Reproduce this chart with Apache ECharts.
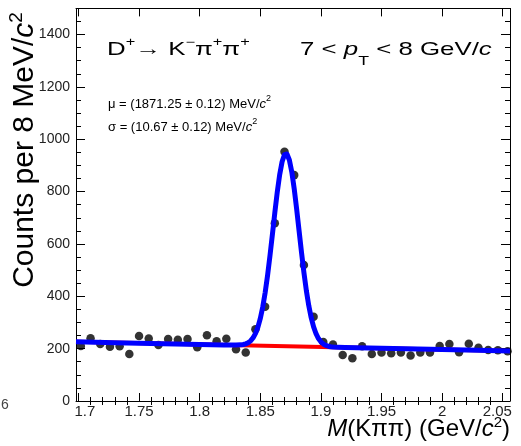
<!DOCTYPE html>
<html><head><meta charset="utf-8">
<script src="https://cdn.jsdelivr.net/npm/echarts@6/dist/echarts.min.js"></script>
<style>html,body{margin:0;padding:0;background:#fff}#c{width:521px;height:446px}</style>
</head><body><div id="c"></div>
<script>
// ---- data ----
const binCenters = [1.702,1.710,1.718,1.726,1.734,1.742,1.750,1.758,1.766,1.774,1.782,1.790,1.798,1.806,1.814,1.822,1.830,1.838,1.846,1.854,1.862,1.870,1.878,1.886,1.894,1.902,1.910,1.918,1.926,1.934,1.942,1.950,1.958,1.966,1.974,1.982,1.990,1.998,2.006,2.014,2.022,2.030,2.038,2.046,2.054];
const counts = [210,240,218,207,209,180,248,239,214,237,234,237,205,251,228,238,198,185,274,360,679,952,863,520,322,225,216,176,163,209,180,185,182,185,174,185,185,210,218,186,219,203,195,194,190];
// fitted curve (signal + background)
const fitX = [1.698,1.73,1.76,1.79,1.81,1.82,1.826,1.830,1.834,1.836,1.838,1.840,1.842,1.844,1.846,1.848,1.850,1.852,1.854,1.856,1.858,1.860,1.862,1.864,1.866,1.868,1.870,1.871,1.872,1.874,1.876,1.878,1.880,1.882,1.884,1.886,1.888,1.890,1.892,1.894,1.896,1.898,1.900,1.902,1.904,1.906,1.908,1.910,1.914,1.92,1.94,1.98,2.02,2.056];
const fitY = [226,222.9,219.9,217,215,214.1,213.5,213.5,214.5,215.8,218.3,222.6,229.7,240.8,257.5,281.5,314.6,358.3,413.2,479.3,554.7,636.3,719.3,797.5,864.5,914.2,941.6,946.1,943.9,921,875.1,810.7,733.7,650.9,568.1,490.8,422.2,364.6,318.4,283,257,238.5,226,217.8,212.6,209.4,207.5,206.3,204.9,204.3,202.3,198.4,194.5,191];
// background component (red)
const bkgX = [1.698,2.056];
const bkgY = [226,191];
const xMajorTicks = [1.7,1.75,1.8,1.85,1.9,1.95,2,2.05];
const xMinorTicks = [1.71,1.72,1.73,1.74,1.76,1.77,1.78,1.79,1.81,1.82,1.83,1.84,1.86,1.87,1.88,1.89,1.91,1.92,1.93,1.94,1.96,1.97,1.98,1.99,2.01,2.02,2.03,2.04];
const yMajorTicks = [0,200,400,600,800,1000,1200,1400];

const FF = "'Liberation Sans', Arial, Helvetica, sans-serif";
const chart = echarts.init(document.getElementById('c'), null, {renderer:'canvas'});
const gridRect = {left:76, top:8.4, width:434, height:392.6};
const axLine = {show:true, onZero:false, lineStyle:{color:'#000', width:1}};
function xAx(grid, pos, ticks, len, labels, line){
  const a = {type:'value', gridIndex:grid, position:pos, min:1.698, max:2.056,
    axisLine: line ? axLine : {show:false},
    axisTick:{show:true, inside:true, length:len, customValues:ticks, lineStyle:{color:'#000', width:1}},
    axisLabel:{show:false}, splitLine:{show:false}};
  if (labels) {
    a.axisLabel = {show:true, customValues:xMajorTicks, fontSize:15, color:'#222', fontFamily:FF, margin:3,
      formatter:function(v){ if (Math.abs(v-1.7)<1e-9) return '{f|1.7}'; if (Math.abs(v-2.05)<1e-9) return '{l|2.05}'; return '{m|'+String(+(+v).toFixed(2))+'}'; },
      rich:{f:{fontSize:15,color:'#222',fontFamily:FF,padding:[0,0,0,13]}, l:{fontSize:15,color:'#222',fontFamily:FF,padding:[0,11,0,0]}, m:{fontSize:15,color:'#222',fontFamily:FF}}};
  }
  return a;
}
function yAx(grid, pos, len, labels, line, minor){
  const a = {type:'value', gridIndex:grid, position:pos, min:0, max:1500,
    axisLine: line ? axLine : {show:false},
    axisTick:{show:true, inside:true, length:len, lineStyle:{color:'#000', width:1}},
    axisLabel:{show:false}, splitLine:{show:false}};
  if (minor) { a.interval = 50; } else { a.axisTick.customValues = yMajorTicks; }
  if (labels) a.axisLabel = {show:true, customValues:yMajorTicks, fontSize:14, color:'#222', fontFamily:FF, margin:6,
    formatter:function(v){ return String(Math.round(v)); }};
  return a;
}
const tx = (size, lh) => ({fontSize:size, fontFamily:FF, fill:'#000', lineHeight:lh});
const it = (size, lh) => Object.assign(tx(size, lh), {fontStyle:'italic'});
const sup = (size, lh) => Object.assign(tx(size, lh), {verticalAlign:'top'});
const option = {
  animation:false,
  backgroundColor:'#fff',
  grid:[Object.assign({}, gridRect), Object.assign({}, gridRect)],
  xAxis:[xAx(0,'bottom',xMajorTicks,8,true,true), xAx(0,'top',xMajorTicks,8,false,true),
         xAx(1,'bottom',xMinorTicks,4,false,false), xAx(1,'top',xMinorTicks,4,false,false)],
  yAxis:[yAx(0,'left',9,true,true,false), yAx(0,'right',9,false,true,false),
         yAx(1,'left',5,false,false,true), yAx(1,'right',5,false,false,true)],
  series:[
    {type:'scatter', xAxisIndex:0, yAxisIndex:0, symbol:'circle', symbolSize:8.5, z:2,
     itemStyle:{color:'#000'}, data:binCenters.map((x,i)=>[x,counts[i]])},
    {type:'line', xAxisIndex:0, yAxisIndex:0, showSymbol:false, z:3, silent:true,
     lineStyle:{color:'#ff0000', width:4}, data:bkgX.map((x,i)=>[x,bkgY[i]])},
    {type:'line', xAxisIndex:0, yAxisIndex:0, showSymbol:false, z:4, silent:true, smooth:false,
     lineStyle:{color:'#0000ff', width:5, join:'round'}, data:fitX.map((x,i)=>[x,fitY[i]])}
  ],
  graphic:[
    {type:'text', x:107, y:50, z:10, scaleX:1.36, style:{text:'{n|D}{s|+}{n|→ K}{s|−}{n|π}{s|+}{n|π}{s|+}', textAlign:'left', textVerticalAlign:'middle',
      rich:{n:tx(19,26), s:sup(12,10)}}},
    {type:'text', x:300, y:50, z:10, scaleX:1.36, style:{text:'{n|7 < }{i|p}{t|T}{n| < 8 GeV/}{i|c}', textAlign:'left', textVerticalAlign:'middle',
      rich:{n:tx(19,36), i:it(19,36), t:Object.assign(tx(13,13),{verticalAlign:'bottom'})}}},
    {type:'text', x:108, y:104, z:10, style:{text:'{n|μ = (1871.25 ± 0.12) MeV/}{i|c}{s|2}', textAlign:'left', textVerticalAlign:'middle',
      rich:{n:tx(13,20), i:it(13,20), s:sup(9,10)}}},
    {type:'text', x:108, y:127, z:10, style:{text:'{n|σ = (10.67 ± 0.12) MeV/}{i|c}{s|2}', textAlign:'left', textVerticalAlign:'middle',
      rich:{n:tx(13,20), i:it(13,20), s:sup(9,10)}}},
    {type:'text', x:25, y:150, rotation:Math.PI/2, z:10, style:{text:'{n|Counts per 8 MeV/}{i|c}{s|2}', textAlign:'center', textVerticalAlign:'middle',
      rich:{n:tx(30,36), i:it(30,36), s:sup(19,16)}}},
    {type:'text', x:510, y:429, z:10, style:{text:'{i|M}{n|(Kππ) (GeV/}{i|c}{s|2}{n|)}', textAlign:'right', textVerticalAlign:'middle',
      rich:{n:tx(24,28), i:it(24,28), s:sup(15,12)}}},
    {type:'text', x:1, y:405, z:10, style:{text:'6', font:'14px '+FF, fill:'#444', textAlign:'left', textVerticalAlign:'middle'}}
  ]
};
chart.setOption(option);
</script></body></html>
